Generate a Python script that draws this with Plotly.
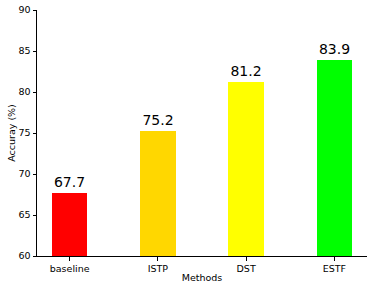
import plotly.graph_objects as go

methods = ["baseline", "ISTP", "DST", "ESTF"]
accuracy = [67.7, 75.2, 81.2, 83.9]
labels = ["67.7", "75.2", "81.2", "83.9"]
colors = ["#FF0000", "#FFD700", "#FFFF00", "#00FF00"]

fig = go.Figure(go.Bar(
    x=list(range(len(methods))), y=accuracy, base=0,
    width=0.4, marker=dict(color=colors, line=dict(width=0)),
    text=labels, textposition="outside", cliponaxis=False,
    textfont=dict(family="DejaVu Sans", size=14, color="black"),
))
fig.update_layout(
    width=374, height=291,
    margin=dict(l=37, r=7, t=10, b=35, autoexpand=False),
    plot_bgcolor="white", paper_bgcolor="white",
    font=dict(family="DejaVu Sans", size=10, color="black"),
    showlegend=False,
    bargap=0,
)
fig.update_xaxes(
    range=[-0.37, 3.37], tickmode="array", tickvals=list(range(len(methods))), ticktext=methods,
    showline=True, linecolor="black", linewidth=1, ticks="outside", ticklen=3.5, tickcolor="black",
    showgrid=False, zeroline=False, automargin=False,
    title=dict(text="Methods", font=dict(size=9.5), standoff=1),
    tickfont=dict(size=9.5),
)
fig.update_yaxes(
    range=[60, 90], tickvals=[60, 65, 70, 75, 80, 85, 90],
    showline=True, linecolor="black", linewidth=1, ticks="outside", ticklen=3.5, tickcolor="black",
    showgrid=False, zeroline=False, automargin=False,
    title=dict(text="Accuray (%)", font=dict(size=9.5), standoff=1),
    tickfont=dict(size=9.5),
)
fig.write_html("out.html", config={"displayModeBar": False},
               post_script="document.body.style.margin='0';document.body.style.padding='0';")
